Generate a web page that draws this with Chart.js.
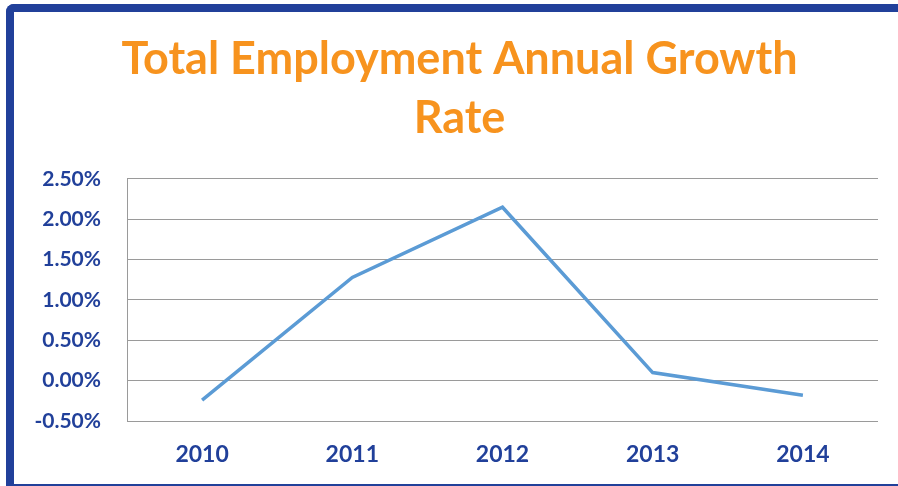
<!DOCTYPE html>
<html>
<head>
<meta charset="utf-8">
<script src="https://cdn.jsdelivr.net/npm/chart.js@4/dist/chart.umd.min.js"></script>
<style>
  html, body { margin: 0; padding: 0; background: #fff; }
  #wrap { position: relative; width: 898px; height: 486px; overflow: hidden; }
  #frame {
    position: absolute; left: 6px; top: 4px; right: -10px; bottom: 0;
    border-left: 8px solid #21409a;
    border-top: 8px solid #21409a;
    border-bottom: 2px solid #21409a;
    border-top-left-radius: 8px;
    pointer-events: none;
  }
  canvas { position: absolute; left: 0; top: 0; }
</style>
</head>
<body>
<div id="wrap">
  <canvas id="graficoEmpleo" width="898" height="486"></canvas>
  <div id="frame"></div>
</div>
<script>
// Crecimiento anual del empleo total (%)
const years = ['2010', '2011', '2012', '2013', '2014'];
const growthRate = [-0.24, 1.28, 2.15, 0.10, -0.18];
const titleLines = ['Total Employment Annual Growth', 'Rate'];

const azul = '#21409a';
const naranja = '#f7931e';

// las etiquetas del eje Y se recortan al ancho del eje; se amplía el recorte hacia la izquierda
const sinRecorteY = {
    id: 'sinRecorteY',
    afterLayout: function(chart) {
        chart.scales.y.left = 0;
    }
};

document.addEventListener('DOMContentLoaded', function() {
    const ctx = document.getElementById('graficoEmpleo');

    new Chart(ctx, {
        type: 'line',
        data: {
            labels: years,
            datasets: [{
                label: 'Growth Rate',
                data: growthRate,
                borderColor: '#5b9bd5',
                borderWidth: 3.5,
                pointRadius: 0,
                tension: 0,
                fill: false
            }]
        },
        options: {
            responsive: false,
            animation: false,
            layout: {
                padding: { left: 41, top: 12, right: 20, bottom: 16 }
            },
            scales: {
                x: {
                    offset: true,
                    // alto fijo del eje para que el área quede en y=421
                    afterFit: function(scale) { scale.height = 49; },
                    grid: { display: false, drawTicks: false },
                    border: { display: false },
                    ticks: {
                        color: azul,
                        padding: 20,
                        font: { family: 'Lato', size: 23, weight: 'bold' }
                    }
                },
                y: {
                    min: -0.5,
                    max: 2.5,
                    afterFit: function(scale) { scale.width = 86; },
                    grid: { color: '#9a9a9a', lineWidth: 1, drawTicks: false },
                    border: { display: true, color: '#9a9a9a', width: 1 },
                    ticks: {
                        stepSize: 0.5,
                        color: azul,
                        padding: 26,
                        font: { family: 'Lato', size: 21, weight: 'bold' },
                        callback: function(v) { return v.toFixed(2) + '%'; }
                    }
                }
            },
            plugins: {
                legend: { display: false },
                tooltip: { enabled: false },
                title: {
                    display: true,
                    text: titleLines,
                    color: naranja,
                    font: { family: 'Lato', size: 45, weight: 'bold', lineHeight: 1.333 },
                    padding: { top: 17, bottom: 30 }
                }
            }
        },
        plugins: [sinRecorteY]
    });
});
</script>
</body>
</html>
